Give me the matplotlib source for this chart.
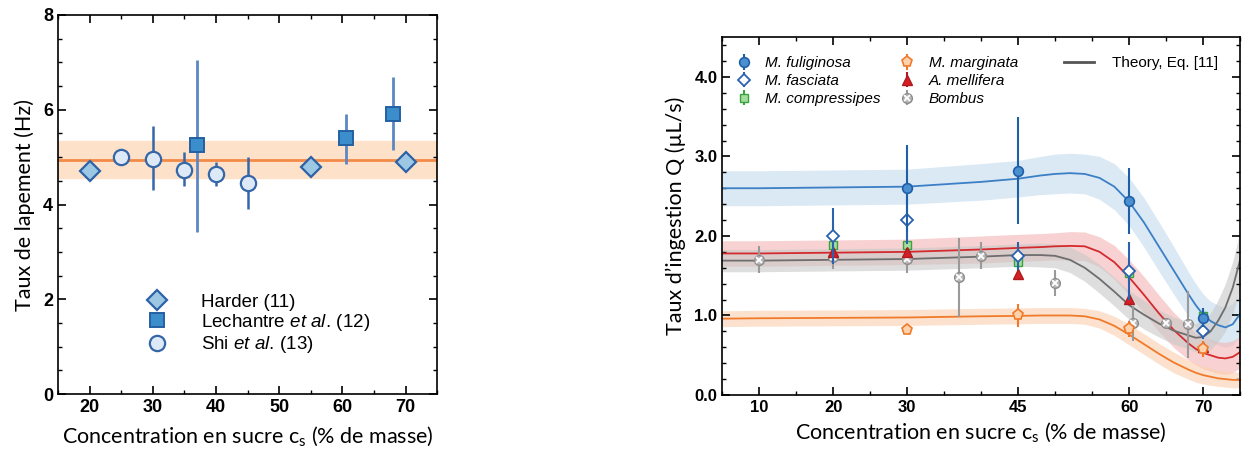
# Deux graphiques : taux de lapement et taux d'ingestion
import numpy as np
import matplotlib
matplotlib.use("Agg")
import matplotlib.pyplot as plt
from matplotlib.ticker import MultipleLocator, FixedLocator
from matplotlib.legend_handler import HandlerTuple

# ---- donnees graphique de gauche ----
harder_x = [20, 55, 70]
harder_y = [4.7, 4.8, 4.9]

lech_x = [37, 60.5, 68]
lech_y = [5.25, 5.4, 5.9]
lech_bas = [1.83, 0.55, 0.75]
lech_haut = [1.8, 0.5, 0.8]

shi_x = [25, 30, 35, 40, 45]
shi_y = [5.0, 4.97, 4.73, 4.65, 4.45]
shi_bas = [0.1, 0.67, 0.33, 0.25, 0.55]
shi_haut = [0.1, 0.68, 0.37, 0.25, 0.55]

moyenne = 4.95
moyenne_bas = 4.55
moyenne_haut = 5.35

# ---- donnees graphique de droite ----
fulig_x = [30, 45, 60, 70]
fulig_y = [2.60, 2.82, 2.44, 0.97]
fulig_err = [0.55, 0.67, 0.42, 0.12]

fasc_x = [20, 30, 45, 60, 70]
fasc_y = [2.0, 2.2, 1.75, 1.56, 0.81]
fasc_err = [0.35, 0.3, 0.18, 0.36, 0.1]

compr_x = [20, 30, 45, 60, 70]
compr_y = [1.89, 1.89, 1.67, 1.53, 0.99]
compr_err = [0.12, 0.16, 0.1, 0.12, 0.08]

margi_x = [30, 45, 60, 70]
margi_y = [0.82, 1.0, 0.83, 0.58]
margi_err = [0.03, 0.14, 0.1, 0.1]

melli_x = [20, 30, 45, 60, 70]
melli_y = [1.80, 1.80, 1.52, 1.21, 0.61]
melli_err = [0.05, 0.05, 0.05, 0.05, 0.05]

bomb_x = [10, 20, 30, 37, 40, 50, 60.5, 65, 68]
bomb_y = [1.70, 1.73, 1.71, 1.48, 1.75, 1.41, 0.90, 0.90, 0.89]
bomb_err = [0.17, 0.15, 0.17, 0.5, 0.17, 0.16, 0.22, 0.05, 0.42]

# courbes theoriques
theo_x = [5, 10, 20, 30, 40, 45, 48, 50, 52, 54, 56, 58, 60, 62, 64, 66,
          68, 69, 70, 71, 72, 73, 74, 75]
bleu_y = [2.60, 2.60, 2.61, 2.62, 2.68, 2.72, 2.76, 2.78, 2.79, 2.78, 2.73,
          2.62, 2.43, 2.17, 1.87, 1.57, 1.27, 1.13, 1.01, 0.93, 0.88, 0.85,
          0.89, 1.02]
bleu_hw = [0.22, 0.22, 0.22, 0.22, 0.23, 0.23, 0.24, 0.25, 0.25, 0.25, 0.27,
           0.29, 0.30, 0.31, 0.31, 0.30, 0.28, 0.27, 0.26, 0.25, 0.25, 0.25,
           0.26, 0.27]
rouge_y = [1.78, 1.78, 1.79, 1.80, 1.83, 1.85, 1.86, 1.87, 1.875, 1.87,
           1.80, 1.67, 1.48, 1.26, 1.03, 0.82, 0.65, 0.58, 0.53, 0.50, 0.47,
           0.46, 0.48, 0.54]
rouge_hw = [0.16, 0.16, 0.16, 0.16, 0.17, 0.17, 0.17, 0.17, 0.18, 0.18, 0.19,
            0.21, 0.22, 0.23, 0.23, 0.22, 0.21, 0.2, 0.2, 0.2, 0.2, 0.2,
            0.2, 0.2]
gris_y = [1.69, 1.69, 1.70, 1.71, 1.74, 1.76, 1.76, 1.75, 1.70, 1.60, 1.46,
          1.30, 1.13, 1.01, 0.90, 0.81, 0.75, 0.72, 0.73, 0.80, 0.93, 1.10,
          1.35, 1.70]
gris_hw = [0.14, 0.14, 0.14, 0.14, 0.14, 0.14, 0.15, 0.15, 0.16, 0.17, 0.18,
           0.18, 0.18, 0.18, 0.17, 0.17, 0.17, 0.18, 0.2, 0.23, 0.26, 0.3,
           0.33, 0.36]
orange_y = [0.96, 0.965, 0.97, 0.975, 0.99, 0.995, 1.0, 1.0, 1.0, 0.99, 0.95,
            0.87, 0.76, 0.64, 0.52, 0.41, 0.32, 0.28, 0.25, 0.23, 0.21, 0.20,
            0.19, 0.19]
orange_hw = [0.1, 0.1, 0.1, 0.1, 0.1, 0.1, 0.1, 0.1, 0.1, 0.1, 0.11, 0.12,
             0.13, 0.13, 0.13, 0.13, 0.12, 0.12, 0.11, 0.11, 0.1, 0.1, 0.1,
             0.1]

ticks_droite = [10, 20, 30, 45, 60, 70]

# ---- style ----
plt.rcParams["font.family"] = ["Liberation Sans", "DejaVu Sans"]
plt.rcParams["mathtext.fontset"] = "custom"
plt.rcParams["mathtext.rm"] = "Liberation Sans"
plt.rcParams["mathtext.it"] = "Liberation Sans:italic"
police_titre = "Lato"
xlabel = "Concentration en sucre c$_\\mathregular{s}$ (% de masse)"

fig = plt.figure(figsize=(12.43, 4.53), dpi=100)
ax1 = fig.add_axes([0.0467, 0.130, 0.305, 0.837])
ax2 = fig.add_axes([0.581, 0.128, 0.4167, 0.790])

# ---------------- graphique de gauche ----------------
ax1.axhspan(moyenne_bas, moyenne_haut, color="#fde2c9", zorder=0)
ax1.axhline(moyenne, color="#f28a48", lw=2, zorder=1)

ax1.errorbar(lech_x, lech_y, yerr=[lech_bas, lech_haut], fmt="none",
             ecolor="#5c87c2", elinewidth=2, zorder=2)
ax1.errorbar(shi_x, shi_y, yerr=[shi_bas, shi_haut], fmt="none",
             ecolor="#3766a8", elinewidth=1.8, zorder=2)

h1, = ax1.plot(harder_x, harder_y, "D", ms=10, mfc="#9cc8e3", mec="#2d62a8",
               mew=1.6, ls="none", zorder=3, label="Harder (11)")
h2, = ax1.plot(lech_x, lech_y, "s", ms=10, mfc="#3b8dcc", mec="#2460a2",
               mew=1.4, ls="none", zorder=3,
               label="Lechantre $\\mathit{et\\ al.}\\,$(12)")
h3, = ax1.plot(shi_x, shi_y, "o", ms=11, mfc="#dde9f6", mec="#3566a8",
               mew=1.6, ls="none", zorder=3,
               label="Shi $\\mathit{et\\ al.}\\,$(13)")

ax1.set_xlim(15, 75)
ax1.set_ylim(0, 8)
ax1.xaxis.set_major_locator(MultipleLocator(10))
ax1.xaxis.set_minor_locator(MultipleLocator(5))
ax1.yaxis.set_major_locator(MultipleLocator(2))
ax1.yaxis.set_minor_locator(MultipleLocator(0.5))
ax1.set_xticks([20, 30, 40, 50, 60, 70])

leg1 = ax1.legend(handles=[h1, h2, h3], loc="upper left",
                  bbox_to_anchor=(0.187, 0.29), frameon=False, fontsize=13.5,
                  handletextpad=1.35, labelspacing=0.07, borderpad=0)

ax1.set_ylabel("Taux de lapement (Hz)", family=police_titre, fontsize=15.5,
               labelpad=6)
ax1.set_xlabel(xlabel, family=police_titre, fontsize=15.5, labelpad=6)

# ---------------- graphique de droite ----------------
courbes = [(bleu_y, bleu_hw, "#3b7fc6", "#c4dbee"),
           (rouge_y, rouge_hw, "#d42a2e", "#f4b4b4"),
           (gris_y, gris_hw, "#6e6e6e", "#c8c8c8"),
           (orange_y, orange_hw, "#f07a2a", "#fbcfae")]
for cy, hw, c_ligne, c_bande in courbes:
    cy = np.array(cy)
    hw = np.array(hw)
    ax2.fill_between(theo_x, cy - hw, cy + hw, color=c_bande, alpha=0.6,
                     lw=0, zorder=1)
for cy, hw, c_ligne, c_bande in courbes:
    ax2.plot(theo_x, cy, color=c_ligne, lw=1.3, zorder=2)

e_bomb = ax2.errorbar(bomb_x, bomb_y, yerr=bomb_err, fmt="o", ms=7,
                      mfc="#b9b9b9", mec="#8c8c8c", mew=1, ecolor="#9a9a9a",
                      elinewidth=1.5, zorder=3)
x_bomb, = ax2.plot(bomb_x, bomb_y, "x", ms=4, mec="white", mew=1.3,
                   ls="none", zorder=4)
e_margi = ax2.errorbar(margi_x, margi_y, yerr=margi_err, fmt="p", ms=8,
                       mfc="#fdd2ad", mec="#f07a2a", mew=1.2,
                       ecolor="#f07a2a", elinewidth=1.5, zorder=6)
e_compr = ax2.errorbar(compr_x, compr_y, yerr=compr_err, fmt="s", ms=6,
                       mfc="#a6dc9e", mec="#3aa340", mew=1, ecolor="#3aa340",
                       elinewidth=1.5, zorder=4)
e_melli = ax2.errorbar(melli_x, melli_y, yerr=melli_err, fmt="^", ms=7,
                       mfc="#d42024", mec="#b01a1e", mew=1, ecolor="#b01a1e",
                       elinewidth=1.5, zorder=5)
e_fasc = ax2.errorbar(fasc_x, fasc_y, yerr=fasc_err, fmt="D", ms=6,
                      mfc="white", mec="#2b62b0", mew=1.3, ecolor="#2b62b0",
                      elinewidth=1.5, zorder=6)
e_fulig = ax2.errorbar(fulig_x, fulig_y, yerr=fulig_err, fmt="o", ms=7,
                       mfc="#4a90d0", mec="#1f5fa8", mew=1.2,
                       ecolor="#1f5fa8", elinewidth=1.5, zorder=7)

ax2.set_xlim(5, 75)
ax2.set_ylim(0, 4.5)
ax2.xaxis.set_major_locator(FixedLocator(ticks_droite))
ax2.xaxis.set_minor_locator(MultipleLocator(5))
ax2.yaxis.set_major_locator(MultipleLocator(1))
ax2.yaxis.set_minor_locator(MultipleLocator(0.2))
ax2.set_yticklabels([f"{v:.1f}" for v in ax2.get_yticks()])

poignees = [e_fulig, e_fasc, e_compr, e_margi, e_melli, (e_bomb, x_bomb)]
noms = ["M. fuliginosa", "M. fasciata", "M. compressipes", "M. marginata",
        "A. mellifera", "Bombus"]
leg2 = ax2.legend(poignees, noms, ncol=2, loc="upper left",
                  bbox_to_anchor=(0.0, 0.985), frameon=False,
                  prop={"style": "italic", "size": 11}, handlelength=1.0,
                  handletextpad=0.9, columnspacing=1.25, labelspacing=0.25,
                  handler_map={tuple: HandlerTuple(ndivide=1)})
ax2.add_artist(leg2)
ligne_theo, = ax2.plot([], [], color="#555555", lw=2)
ax2.legend([ligne_theo], ["Theory, Eq. [11]"], loc="upper right",
           bbox_to_anchor=(0.985, 0.985), frameon=False, fontsize=11,
           handlelength=2.0, handletextpad=1.2)

ax2.set_ylabel("Taux d\u2019ingestion Q (\u00b5L/s)", family=police_titre,
               fontsize=15.5, labelpad=6)
ax2.set_xlabel(xlabel, family=police_titre, fontsize=15.5, labelpad=4)

for ax in [ax1, ax2]:
    ax.tick_params(which="both", direction="in", top=True, right=True)
    ax.tick_params(which="major", length=6, width=1.2)
    ax.tick_params(which="minor", length=3, width=1)
    for lab in ax.get_xticklabels() + ax.get_yticklabels():
        lab.set_fontweight("bold")
    for s in ax.spines.values():
        s.set_linewidth(1.2)
ax1.tick_params(labelsize=13)
ax2.tick_params(labelsize=12)

plt.savefig("out.png", dpi=100)
